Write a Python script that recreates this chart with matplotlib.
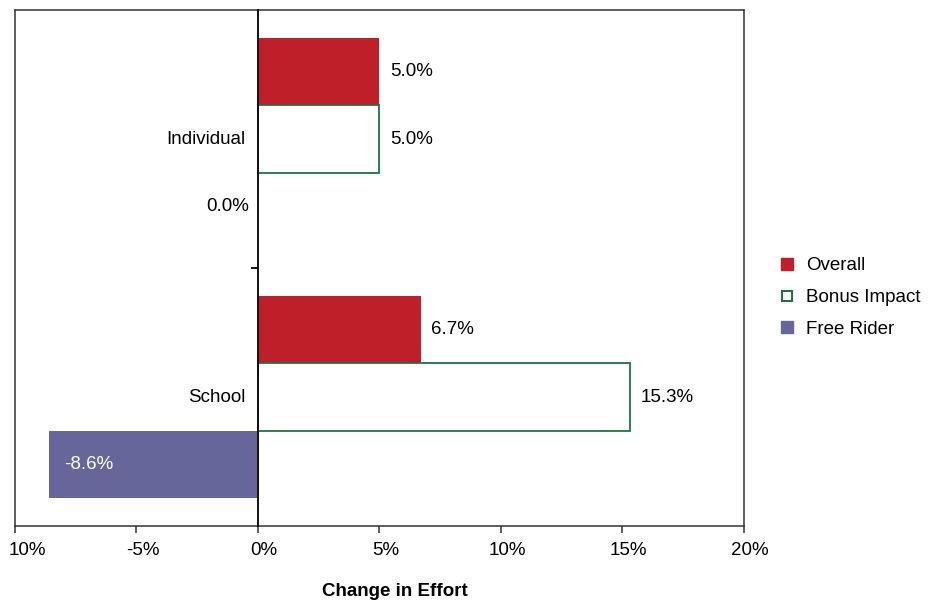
import numpy as np
import matplotlib
matplotlib.use('Agg')
import matplotlib.pyplot as plt
import matplotlib.transforms as mtransforms
from matplotlib.lines import Line2D

plt.rcParams['font.family'] = ['Liberation Sans', 'DejaVu Sans']
plt.rcParams['font.size'] = 13.5

categories = ['School', 'Individual']
series = ['Overall', 'Bonus Impact', 'Free Rider']
overall = [6.7, 5.0]
bonus = [15.3, 5.0]
free_rider = [-8.6, 0.0]
xticks = [-10, -5, 0, 5, 10, 15, 20]
xticklabels = ['10%', '-5%', '0%', '5%', '10%', '15%', '20%']

red = '#BE1F29'
green = '#1D7246'
purple = '#67669A'
dark = '#333333'

fig = plt.figure(figsize=(9.35, 6.0), dpi=100)
ax = fig.add_axes([15/935, 74/600, 729/935, 516/600])

y = np.arange(len(categories))
h = 0.2616

b1 = ax.barh(y + h, overall, height=h, color=red, edgecolor='none')
b2 = ax.barh(y, bonus, height=h, color='white', edgecolor=green, linewidth=1.3)
b3 = ax.barh(y - h, free_rider, height=h, color=purple, edgecolor='none')

ax.set_xlim(-10, 20)
ax.set_ylim(-0.5, 1.5)

# move the left spine to zero, keep a frame at the left edge
ax.spines['left'].set_position(('data', 0))
ax.spines['left'].set_color('#111111')
ax.spines['left'].set_linewidth(1.4)
ax.spines['left'].set_zorder(3)
for s in ['top', 'right', 'bottom']:
    ax.spines[s].set_color(dark)
    ax.spines[s].set_linewidth(1.1)
ax.axvline(-10, color=dark, lw=1.1, clip_on=False)

ax.set_yticks([0.5])
ax.set_yticklabels([''])
ax.set_yticks(y, minor=True)
ax.set_yticklabels(categories, minor=True)
ax.tick_params(axis='y', which='major', direction='out', length=5, width=1.4, color='#111111')
ax.tick_params(axis='y', which='minor', length=0, pad=9)
for lab in ax.get_yticklabels(minor=True):
    lab.set_va('center')

ax.set_xticks(xticks)
ax.set_xticklabels(xticklabels)
ax.tick_params(axis='x', direction='out', length=5, width=1.1, pad=6.5, color=dark)
for i, lab in enumerate(ax.get_xticklabels()):
    dx = 12 if i == 0 else 6
    lab.set_transform(lab.get_transform() +
                      mtransforms.ScaledTranslation(dx/100, 0, fig.dpi_scale_trans))

for bars, vals in [(b1, overall), (b2, bonus)]:
    for rect, v in zip(bars, vals):
        cy = rect.get_y() + rect.get_height()/2
        ax.annotate(f'{v:.1f}%', (v, cy), xytext=(7.5, 0), textcoords='offset points',
                    ha='left', va='center', fontsize=13.5)
for rect, v in zip(b3, free_rider):
    cy = rect.get_y() + rect.get_height()/2
    if v < 0:
        ax.annotate(f'{v:.1f}%', (v, cy), xytext=(11, 0), textcoords='offset points',
                    ha='left', va='center', color='white', fontsize=13.5)
    else:
        ax.annotate(f'{v:.1f}%', (v, cy), xytext=(-6.5, 0), textcoords='offset points',
                    ha='right', va='center', fontsize=13.5)

fig.text(395/935, 1 - 591/600, 'Change in Effort', ha='center', va='center',
         fontweight='bold', fontsize=13.5)

handles = [
    Line2D([], [], ls='none', marker='s', markersize=8, markerfacecolor=red, markeredgecolor=red),
    Line2D([], [], ls='none', marker='s', markersize=7, markerfacecolor='white',
           markeredgecolor=green, markeredgewidth=1.5),
    Line2D([], [], ls='none', marker='s', markersize=8, markerfacecolor=purple, markeredgecolor=purple),
]
fig.legend(handles, series, loc='center left', bbox_to_anchor=(777.6/935, 1 - 297.5/600),
           frameon=False, borderpad=0, borderaxespad=0, handlelength=1.0,
           handletextpad=0.5, labelspacing=0.78, fontsize=13.5)

fig.savefig('out.png', dpi=100)
